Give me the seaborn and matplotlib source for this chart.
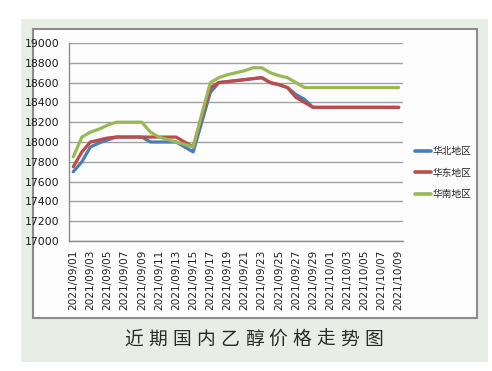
import matplotlib
matplotlib.use("Agg")
import matplotlib.pyplot as plt
from matplotlib.patches import Rectangle
import pandas as pd
import seaborn as sns

# daily categories 2021/09/01 .. 2021/10/09
dates = [d.strftime("%Y/%m/%d") for d in pd.date_range("2021-09-01", "2021-10-09")]

regions = ["华北地区", "华东地区", "华南地区"]

north = [17700, 17800, 17950, 17990, 18020, 18050, 18050, 18050, 18050, 18000,
         18000, 18000, 18000, 17950, 17900, 18200, 18500, 18600, 18610, 18620,
         18630, 18640, 18650, 18600, 18580, 18550, 18480, 18430, 18350, 18350,
         18350, 18350, 18350, 18350, 18350, 18350, 18350, 18350, 18350]

east = [17750, 17900, 18000, 18020, 18040, 18050, 18050, 18050, 18050, 18050,
        18050, 18050, 18050, 18000, 17950, 18250, 18550, 18600, 18610, 18620,
        18630, 18640, 18650, 18600, 18580, 18550, 18450, 18400, 18350, 18350,
        18350, 18350, 18350, 18350, 18350, 18350, 18350, 18350, 18350]

south = [17850, 18050, 18100, 18130, 18170, 18200, 18200, 18200, 18200, 18100,
         18050, 18025, 18000, 17975, 17950, 18280, 18600, 18650, 18680, 18700,
         18720, 18750, 18750, 18700, 18670, 18650, 18600, 18550, 18550, 18550,
         18550, 18550, 18550, 18550, 18550, 18550, 18550, 18550, 18550]

colors = ["#4a7ebb", "#be4b48", "#98b954"]
title = "近期国内乙醇价格走势图"

sns.set_style("white")
plt.rcParams["font.family"] = ["Noto Sans CJK SC", "DejaVu Sans"]

n = len(dates)
df = pd.DataFrame({
    "day": list(range(n)) * 3,
    "price": north + east + south,
    "region": [regions[0]] * n + [regions[1]] * n + [regions[2]] * n,
})

W, H = 492, 371
fig = plt.figure(figsize=(W / 100, H / 100), dpi=100)
fig.patch.set_facecolor("white")

# light panel + white chart box (behind the axes)
fig.patches.append(Rectangle((21 / W, 1 - 362 / H), 467 / W, 343 / H,
                             transform=fig.transFigure, facecolor="#e8ede5",
                             edgecolor="none", zorder=-3))
fig.patches.append(Rectangle((33 / W, 1 - 318 / H), 444 / W, 289 / H,
                             transform=fig.transFigure, facecolor="#fdfdfd",
                             edgecolor="#8c8c8c", lw=1.5, zorder=-2))

ax = fig.add_axes([69 / W, 130 / H, 334 / W, 198 / H])
ax.set_facecolor("none")
ax.set_zorder(2)

sns.lineplot(data=df, x="day", y="price", hue="region", hue_order=regions,
             palette=colors, linewidth=2.3, ax=ax)

ax.set_xlim(-0.5, n - 0.5)
ax.set_ylim(17000, 19000)
ax.set_yticks(range(17000, 19001, 200))
ax.set_xticks(range(0, n, 2))
ax.set_xticks([i - 0.5 for i in range(2, n, 2)], minor=True)
ax.set_xticklabels(dates[::2], rotation=90, fontsize=7.6, color="#222222",
                   family="DejaVu Sans")
ax.set_yticklabels([str(v) for v in range(17000, 19001, 200)], fontsize=7.8,
                   color="#1a1a1a", family=["Liberation Sans Narrow", "DejaVu Sans"])
ax.tick_params(axis="x", which="major", length=0, pad=6)
ax.tick_params(axis="x", which="minor", length=4, color="#8c8c8c", direction="out")
ax.tick_params(axis="y", length=3, color="#8c8c8c", direction="out", pad=4)
ax.set_xlabel("")
ax.set_ylabel("")

ax.yaxis.grid(True, color="#a0a0a0", lw=1)
ax.set_axisbelow(True)
for s in ["top", "right"]:
    ax.spines[s].set_visible(False)
for s in ["left", "bottom"]:
    ax.spines[s].set_color("#8c8c8c")
    ax.spines[s].set_linewidth(1)

handles, labels = ax.get_legend_handles_labels()
for h in handles:
    h.set_linewidth(2.6)
ax.legend(handles, labels, loc="center left", bbox_to_anchor=(1.035, 0.345),
          frameon=False, fontsize=7, handlelength=1.7, handletextpad=0.15,
          labelspacing=1.2, borderpad=0, borderaxespad=0)

# caption under the chart, letter-spaced
step = 24.0
x0 = 134
for i, ch in enumerate(title):
    fig.text((x0 + i * step) / W, 1 - 339 / H, ch, fontsize=13.5, color="#2a2a2a",
             ha="center", va="center")

fig.savefig("out.png", dpi=100)
